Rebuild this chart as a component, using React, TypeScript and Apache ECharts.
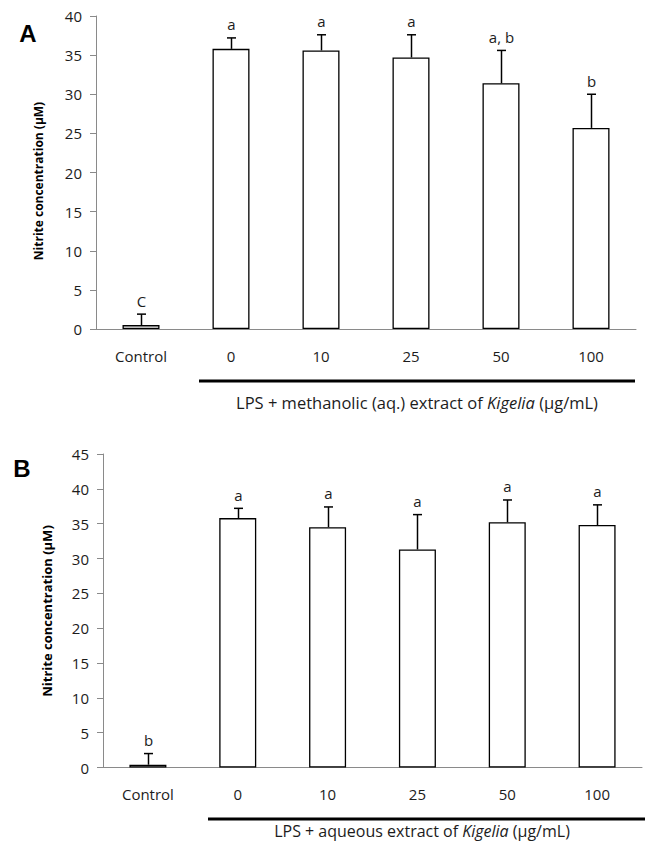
import React, { useEffect, useRef } from "react";
import * as echarts from "echarts";

const categories = ["Control", "0", "10", "25", "50", "100"];
const meansA = [0.5, 35.8, 35.6, 34.7, 31.4, 25.7];
const errA = [1.4, 1.4, 2.0, 2.9, 4.2, 4.3];
const lettersA = ["C", "a", "a", "a", "a, b", "b"];
const meansB = [0.4, 35.8, 34.5, 31.3, 35.2, 34.8];
const errB = [1.6, 1.4, 2.9, 5.0, 3.2, 2.9];
const lettersB = ["b", "a", "a", "a", "a", "a"];
const yTitle = "Nitrite concentration (µM)";

const FONT = "'Open Sans', 'Noto Sans', sans-serif";
const TXT = "#1c1c1c";
const AXIS = "#8a8a8a";

function errSeries(means: number[], errs: number[], letters: string[], idx: number) {
  return {
    type: "custom",
    xAxisIndex: idx,
    yAxisIndex: idx,
    z: 5,
    data: means.map((m, i) => [i, m, errs[i]]),
    encode: { x: 0, y: 1 },
    renderItem: (params: any, api: any) => {
      const i = api.value(0);
      const m = api.value(1);
      const e = api.value(2);
      const base = api.coord([i, m]);
      const top = api.coord([i, m + e]);
      const x = Math.round(base[0]) + 0.5;
      return {
        type: "group",
        children: [
          { type: "line", shape: { x1: x, y1: base[1], x2: x, y2: top[1] }, style: { stroke: "#000", lineWidth: 1.5 } },
          { type: "line", shape: { x1: x - 4.5, y1: top[1], x2: x + 4.5, y2: top[1] }, style: { stroke: "#000", lineWidth: 1.5 } },
          {
            type: "text",
            x: x,
            y: top[1] - 6,
            style: { text: letters[params.dataIndex], fill: TXT, fontSize: 15, fontFamily: FONT, align: "center", verticalAlign: "bottom" },
          },
        ],
      };
    },
  };
}

function xAxis(idx: number, margin: number) {
  return {
    type: "category",
    gridIndex: idx,
    data: categories,
    axisLine: { lineStyle: { color: AXIS, width: 1 } },
    axisTick: { length: 5, lineStyle: { color: AXIS } },
    axisLabel: { color: TXT, fontSize: 15, fontFamily: FONT, margin },
  };
}

function yAxis(idx: number, max: number) {
  return {
    type: "value",
    gridIndex: idx,
    min: 0,
    max,
    interval: 5,
    axisLine: { show: true, lineStyle: { color: AXIS, width: 1 } },
    axisTick: { show: true, length: 6, lineStyle: { color: AXIS } },
    axisLabel: { color: TXT, fontSize: 15, fontFamily: FONT, margin: 14 },
    splitLine: { show: false },
  };
}

function yName(x: number, y: number, size: number) {
  return {
    type: "text",
    x,
    y,
    rotation: Math.PI / 2,
    style: { text: yTitle, fontSize: size, fontWeight: "bold", fontFamily: FONT, fill: "#000", align: "center", verticalAlign: "middle" },
  };
}

export default function App() {
  const ref = useRef<HTMLDivElement>(null);
  useEffect(() => {
    document.body.style.margin = "0";
    const chart = echarts.init(ref.current!, null, { renderer: "svg" });
    const barStyle = { color: "#fff", borderColor: "#000", borderWidth: 1.3 };
    const rich = (s: number) => ({
      n: { fontSize: s, fontFamily: FONT, fill: TXT, color: TXT },
      i: { fontSize: s, fontFamily: FONT, fontStyle: "italic", fill: TXT, color: TXT },
    });
    chart.setOption({
      animation: false,
      backgroundColor: "#fff",
      grid: [
        { left: 96, right: 9, top: 16, height: 313 },
        { left: 103, right: 3, top: 454, height: 313.5 },
      ],
      xAxis: [xAxis(0, 19), xAxis(1, 19)],
      yAxis: [yAxis(0, 40), yAxis(1, 45)],
      series: [
        { type: "bar", xAxisIndex: 0, yAxisIndex: 0, barWidth: 37, data: meansA, itemStyle: barStyle },
        {
          type: "bar",
          xAxisIndex: 1,
          yAxisIndex: 1,
          barWidth: 37,
          data: meansB.map((v, i) => (i === 0 ? { value: v, itemStyle: { color: "#d3d3d3" } } : v)),
          itemStyle: barStyle,
        },
        errSeries(meansA, errA, lettersA, 0),
        errSeries(meansB, errB, lettersB, 1),
      ],
      graphic: [
        { type: "text", x: 28, y: 33, style: { text: "A", fontSize: 24, fontWeight: "bold", fontFamily: "'Liberation Sans', Arial, sans-serif", fill: "#000", align: "center", verticalAlign: "middle" } },
        { type: "text", x: 22, y: 468, style: { text: "B", fontSize: 24, fontWeight: "bold", fontFamily: "'Liberation Sans', Arial, sans-serif", fill: "#000", align: "center", verticalAlign: "middle" } },
        yName(38, 181, 12),
        yName(47, 611, 13),
        { type: "line", shape: { x1: 199, y1: 381, x2: 635, y2: 381 }, style: { stroke: "#000", lineWidth: 3 } },
        { type: "line", shape: { x1: 208, y1: 819, x2: 645, y2: 819 }, style: { stroke: "#000", lineWidth: 3 } },
        {
          type: "text",
          x: 417,
          y: 402,
          style: {
            text: "{n|LPS + methanolic (aq.) extract of }{i|Kigelia}{n| (µg/mL)}",
            align: "center",
            verticalAlign: "middle",
            rich: rich(16.5),
          },
        },
        {
          type: "text",
          x: 422,
          y: 831,
          style: {
            text: "{n|LPS + aqueous extract of }{i|Kigelia}{n| (µg/mL)}",
            align: "center",
            verticalAlign: "middle",
            rich: rich(16),
          },
        },
      ],
    });
    return () => chart.dispose();
  }, []);
  return <div ref={ref} style={{ width: 645, height: 843, position: "absolute", left: 0, top: 0 }} />;
}
